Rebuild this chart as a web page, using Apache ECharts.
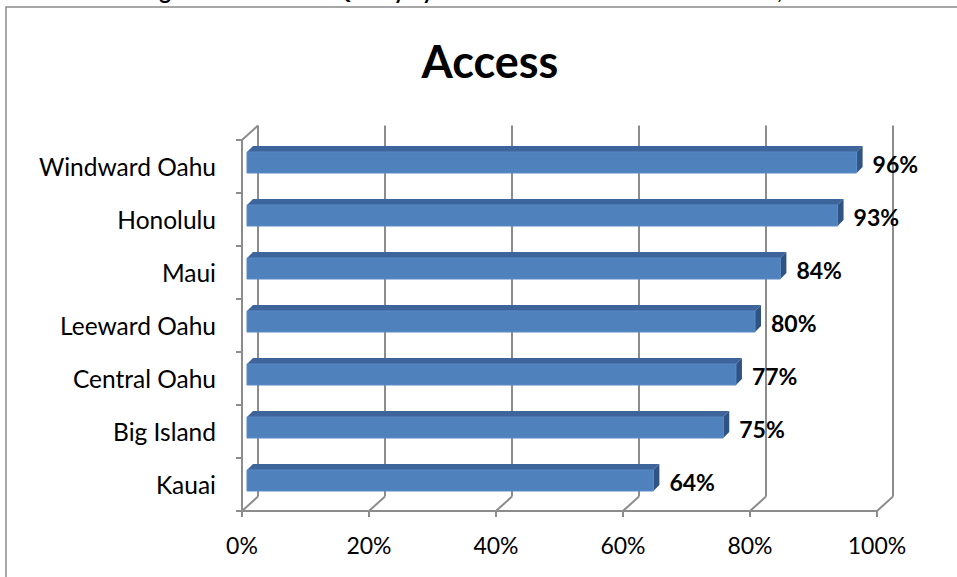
<!DOCTYPE html>
<html>
<head>
<meta charset="utf-8">
<title>Access</title>
<script src="https://cdn.jsdelivr.net/npm/echarts@6/dist/echarts.min.js"></script>
<style>
  html, body { margin: 0; padding: 0; background: #fff; }
  #chart { width: 957px; height: 577px; }
</style>
</head>
<body>
<div id="chart"></div>
<script>
// Regions, top to bottom
const categories = ['Windward Oahu', 'Honolulu', 'Maui', 'Leeward Oahu', 'Central Oahu', 'Big Island', 'Kauai'];
// Share reporting access, percent
const accessValues = [96, 93, 84, 80, 77, 75, 64];
// Value axis ticks, percent
const tickValues = [0, 20, 40, 60, 80, 100];

const chartTitle = 'Access';
const captionText = 'Figure 3. Perceived Quality by Hawaii Health Subdistrict \u2013 Access, 2010';

// 3D look: wall depth and bar geometry (pixels)
const WALL_DX = 16, WALL_DY = -14.5;
const BAR_SHIFT_X = 5, BAR_SHIFT_Y = -4, BAR_HALF = 10.5, BAR_DEPTH = 6;
const FRAME_COLOR = '#8c8c8c';
const FONT = 'Lato, "Open Sans", sans-serif';

const chart = echarts.init(document.getElementById('chart'), null, { renderer: 'svg' });

function frameItem(params, api) {
  const cs = params.coordSys;
  const top = cs.y, bottom = cs.y + cs.height;
  const children = [];
  const line = (x1, y1, x2, y2) => children.push({
    type: 'line', shape: { x1, y1, x2, y2 },
    style: { stroke: FRAME_COLOR, lineWidth: 2 }
  });
  tickValues.forEach(v => {
    const x = api.coord([v, 0])[0];
    // back wall gridline
    line(x + WALL_DX, top + WALL_DY, x + WALL_DX, bottom + WALL_DY);
    // floor depth edge
    line(x, bottom, x + WALL_DX, bottom + WALL_DY);
  });
  // top-left depth edge
  line(cs.x, top, cs.x + WALL_DX, top + WALL_DY);
  return { type: 'group', children };
}

function barItem(params, api) {
  const v = api.value(0);
  const idx = api.value(1);
  const p0 = api.coord([0, idx]);
  const p1 = api.coord([v, idx]);
  const x0 = p0[0] + BAR_SHIFT_X;
  const x1 = p1[0] + BAR_SHIFT_X;
  const cy = p0[1] + BAR_SHIFT_Y;
  const yT = cy - BAR_HALF, yB = cy + BAR_HALF;
  const d = BAR_DEPTH;
  return {
    type: 'group',
    children: [
      { type: 'polygon', shape: { points: [[x0, yT], [x0 + d, yT - d], [x1 + d, yT - d], [x1, yT]] },
        style: { fill: '#3d659b' } },
      { type: 'polygon', shape: { points: [[x1, yT], [x1 + d, yT - d], [x1 + d, yB - d], [x1, yB]] },
        style: { fill: '#2f5483' } },
      { type: 'rect', shape: { x: x0, y: yT, width: x1 - x0, height: yB - yT },
        style: { fill: '#4f81bd', stroke: '#5a8ac4', lineWidth: 1 } },
      { type: 'text', style: { text: v + '%', x: x1 + d + 10, y: cy + 1, verticalAlign: 'middle',
        font: 'bold 23px ' + FONT, fill: '#000' } }
    ]
  };
}

const option = {
  animation: false,
  graphic: [
    { type: 'rect', z: -10, shape: { x: 6, y: 7, width: 1000, height: 1000 },
      style: { fill: '#fff', stroke: '#8a8a8a', lineWidth: 1.5 } },
    // caption runs above the top edge of the page, only its lowest strokes show
    { type: 'text', z: 10, style: { text: captionText, x: 490, y: 1, align: 'center', verticalAlign: 'bottom',
      font: 'bold 22px ' + FONT, fill: '#000' } },
    { type: 'text', z: 10, style: { text: chartTitle, x: 490, y: 61, align: 'center', verticalAlign: 'middle',
      font: 'bold 45px ' + FONT, fill: '#000' } }
  ],
  grid: { left: 242, right: 80, top: 140, bottom: 66 },
  xAxis: {
    type: 'value', min: 0, max: 100, interval: 20,
    axisLine: { show: true, lineStyle: { color: FRAME_COLOR, width: 2 } },
    axisTick: { show: true, length: 6, lineStyle: { color: FRAME_COLOR, width: 2 } },
    splitLine: { show: false },
    axisLabel: { formatter: '{value}%', color: '#000', fontFamily: FONT, fontSize: 23, margin: 22 }
  },
  yAxis: {
    type: 'category', data: categories, inverse: true,
    axisLine: { show: true, lineStyle: { color: FRAME_COLOR, width: 2 } },
    axisTick: { show: true, length: 6, lineStyle: { color: FRAME_COLOR, width: 2 } },
    axisLabel: { color: '#000', fontFamily: FONT, fontSize: 24.5, margin: 26 }
  },
  series: [
    { type: 'custom', name: 'frame', renderItem: frameItem, clip: false, z: 1, silent: true,
      data: [[0, 0]], encode: { x: 0, y: 1 } },
    { type: 'custom', name: chartTitle, renderItem: barItem, clip: false, z: 3,
      data: accessValues.map((v, i) => [v, i]), encode: { x: 0, y: 1 } }
  ]
};

chart.setOption(option);
</script>
</body>
</html>
